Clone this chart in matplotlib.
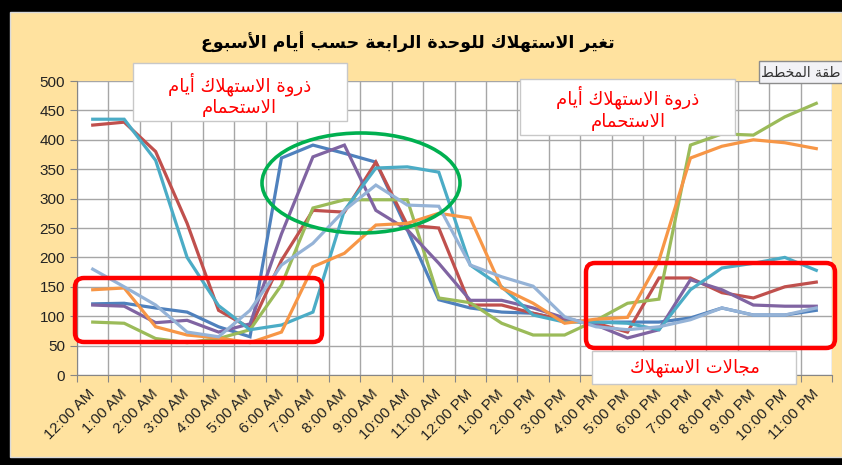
import matplotlib
matplotlib.use("Agg")
import matplotlib.pyplot as plt
from matplotlib.patches import Rectangle, Ellipse, FancyBboxPatch
from matplotlib.transforms import IdentityTransform

plt.rcParams['font.family'] = ['Liberation Sans', 'DejaVu Sans']

hours = ["12:00 AM", "1:00 AM", "2:00 AM", "3:00 AM", "4:00 AM", "5:00 AM",
         "6:00 AM", "7:00 AM", "8:00 AM", "9:00 AM", "10:00 AM", "11:00 AM",
         "12:00 PM", "1:00 PM", "2:00 PM", "3:00 PM", "4:00 PM", "5:00 PM",
         "6:00 PM", "7:00 PM", "8:00 PM", "9:00 PM", "10:00 PM", "11:00 PM"]

blue = [121, 122, 114, 107, 82, 65, 369, 391, 377, 362, 247, 128,
        114, 107, 105, 93, 90, 90, 90, 97, 114, 102, 102, 110]
red = [425, 430, 380, 258, 110, 80, 195, 280, 277, 362, 255, 250,
       119, 119, 105, 93, 88, 73, 165, 165, 140, 131, 150, 158]
green = [90, 88, 62, 55, 62, 77, 153, 284, 298, 298, 298, 131,
         123, 88, 68, 68, 93, 122, 129, 391, 410, 408, 439, 462]
purple = [119, 117, 89, 93, 73, 87, 240, 371, 391, 280, 247, 190,
          127, 127, 114, 97, 85, 63, 77, 162, 145, 119, 117, 117]
teal = [435, 435, 365, 200, 118, 77, 85, 107, 280, 352, 354, 345,
        187, 150, 102, 90, 90, 88, 77, 145, 182, 190, 200, 178]
orange = [145, 148, 82, 68, 63, 55, 73, 184, 207, 255, 258, 275,
          267, 148, 122, 88, 95, 98, 195, 369, 389, 400, 395, 385]
lightblue = [180, 150, 119, 73, 65, 110, 187, 224, 280, 323, 289, 287,
             187, 167, 151, 99, 82, 77, 82, 94, 114, 102, 102, 114]

series = [blue, red, green, purple, teal, orange, lightblue]
colors = ["#4F81BD", "#C0504D", "#9BBB59", "#8064A2", "#4BACC6", "#F79646", "#95B3D7"]

title = "تغير الاستهلاك للوحدة الرابعة حسب أيام الأسبوع"
peak_text = ["ذروة الاستهلاك أيام", "الاستحمام"]
range_text = "مجالات الاستهلاك"
tooltip_text = "طقة المخطط"  # the visible part of the cut-off tooltip

# simple arabic shaping (matplotlib has no bidi/shaping)
FORMS = {
    'ا': ('\ufe8d', '\ufe8e', None, None), 'أ': ('\ufe83', '\ufe84', None, None),
    'ب': ('\ufe8f', '\ufe90', '\ufe91', '\ufe92'), 'ة': ('\ufe93', '\ufe94', None, None),
    'ت': ('\ufe95', '\ufe96', '\ufe97', '\ufe98'), 'ج': ('\ufe9d', '\ufe9e', '\ufe9f', '\ufea0'),
    'ح': ('\ufea1', '\ufea2', '\ufea3', '\ufea4'), 'خ': ('\ufea5', '\ufea6', '\ufea7', '\ufea8'),
    'د': ('\ufea9', '\ufeaa', None, None), 'ذ': ('\ufeab', '\ufeac', None, None),
    'ر': ('\ufead', '\ufeae', None, None), 'س': ('\ufeb1', '\ufeb2', '\ufeb3', '\ufeb4'),
    'ط': ('\ufec1', '\ufec2', '\ufec3', '\ufec4'), 'ع': ('\ufec9', '\ufeca', '\ufecb', '\ufecc'),
    'غ': ('\ufecd', '\ufece', '\ufecf', '\ufed0'), 'ق': ('\ufed5', '\ufed6', '\ufed7', '\ufed8'),
    'ك': ('\ufed9', '\ufeda', '\ufedb', '\ufedc'), 'ل': ('\ufedd', '\ufede', '\ufedf', '\ufee0'),
    'م': ('\ufee1', '\ufee2', '\ufee3', '\ufee4'), 'ن': ('\ufee5', '\ufee6', '\ufee7', '\ufee8'),
    'ه': ('\ufee9', '\ufeea', '\ufeeb', '\ufeec'), 'و': ('\ufeed', '\ufeee', None, None),
    'ي': ('\ufef1', '\ufef2', '\ufef3', '\ufef4'),
}
LAM_ALEF = {'ا': ('\ufefb', '\ufefc', None, None), 'أ': ('\ufef7', '\ufef8', None, None)}


def shape(text):
    tokens = []
    i = 0
    while i < len(text):
        c = text[i]
        if c == 'ل' and i + 1 < len(text) and text[i + 1] in LAM_ALEF:
            tokens.append(LAM_ALEF[text[i + 1]])
            i += 2
        else:
            tokens.append(FORMS.get(c, c))
            i += 1
    out = []
    for k, t in enumerate(tokens):
        if isinstance(t, str):
            out.append(t)
            continue
        prev = tokens[k - 1] if k > 0 else None
        nxt = tokens[k + 1] if k + 1 < len(tokens) else None
        jp = isinstance(prev, tuple) and prev[2] is not None
        jn = isinstance(nxt, tuple) and t[2] is not None
        if jp and jn:
            out.append(t[3])
        elif jp:
            out.append(t[1])
        elif jn:
            out.append(t[2])
        else:
            out.append(t[0])
    return ''.join(reversed(out))


W, H = 842, 465
fig = plt.figure(figsize=(W / 100, H / 100), dpi=100)
fig.patch.set_facecolor("black")
px = IdentityTransform()


def py(y):
    # pixel y from top -> display coords
    return H - y


# chart area
fig.add_artist(Rectangle((10, py(457)), W - 10, 445, transform=px,
                         facecolor="#FFE29F", edgecolor="#D9D9D9", lw=1, zorder=-10))

ax = fig.add_axes([77 / W, (H - 375) / H, (832 - 77) / W, (375 - 81) / H])
x = list(range(len(hours)))
for vals, c in zip(series, colors):
    ax.plot(x, vals, color=c, lw=2.3, solid_joinstyle="miter", zorder=3)

ax.set_xlim(-0.5, len(hours) - 0.5)
ax.set_ylim(0, 500)
ax.set_yticks(range(0, 501, 50))
ax.set_xticks([i - 0.5 for i in range(len(hours) + 1)])
ax.set_xticklabels([])
ax.set_xticks(x, minor=True)
ax.set_xticklabels(hours, minor=True, rotation=45, ha="right", va="center",
                   rotation_mode="anchor", fontsize=11, color="#222222")
ax.tick_params(axis="x", which="minor", length=0, pad=12)
ax.tick_params(axis="x", which="major", length=5, color="#868686")
ax.tick_params(axis="y", length=5, color="#868686", labelsize=11, labelcolor="#222222")
ax.grid(True, which="major", color="#A6A6A6", lw=1)
ax.set_axisbelow(True)
for s in ["top", "right"]:
    ax.spines[s].set_visible(False)
for s in ["left", "bottom"]:
    ax.spines[s].set_color("#868686")

fig.text(408, py(42), shape(title), transform=px, ha="center", va="center",
         fontsize=12.5, fontweight="bold", color="black", family="DejaVu Sans")

# annotation boxes
fig.add_artist(Rectangle((133, py(121)), 214, 58, transform=px,
                         facecolor="white", edgecolor="#C8C8C8", lw=1, zorder=4))
fig.text(240, py(84), shape(peak_text[0]), transform=px, ha="center", va="center",
         fontsize=13, color="#FF0000", family="DejaVu Sans", zorder=5)
fig.text(239, py(108), shape(peak_text[1]), transform=px, ha="center", va="center",
         fontsize=13, color="#FF0000", family="DejaVu Sans", zorder=5)

fig.add_artist(Rectangle((520, py(135)), 215, 56, transform=px,
                         facecolor="white", edgecolor="#C8C8C8", lw=1, zorder=4))
fig.text(628, py(97), shape(peak_text[0]), transform=px, ha="center", va="center",
         fontsize=13, color="#FF0000", family="DejaVu Sans", zorder=5)
fig.text(628, py(122), shape(peak_text[1]), transform=px, ha="center", va="center",
         fontsize=13, color="#FF0000", family="DejaVu Sans", zorder=5)

fig.add_artist(Rectangle((592, py(384)), 204, 33, transform=px,
                         facecolor="white", edgecolor="#C8C8C8", lw=1, zorder=4))
fig.text(695, py(368), shape(range_text), transform=px, ha="center", va="center",
         fontsize=13, color="#FF0000", family="DejaVu Sans", zorder=5)

# red rounded boxes and green ellipse
fig.add_artist(FancyBboxPatch((75, py(342)), 247, 64, transform=px,
                              boxstyle="round,pad=0,rounding_size=9",
                              facecolor="none", edgecolor="#FF0000", lw=3.2, zorder=6))
fig.add_artist(FancyBboxPatch((586, py(348)), 249, 85, transform=px,
                              boxstyle="round,pad=0,rounding_size=9",
                              facecolor="none", edgecolor="#FF0000", lw=3.2, zorder=6))
fig.add_artist(Ellipse((361, py(183)), 198, 100, transform=px,
                       facecolor="none", edgecolor="#00B050", lw=2.6, zorder=6))

# tooltip running off the right edge
fig.add_artist(Rectangle((759, py(83)), 100, 22, transform=px,
                         facecolor="#F2F2F6", edgecolor="#8C8C8C", lw=1, zorder=7))
fig.text(840, py(73), shape(tooltip_text), transform=px, ha="right", va="center",
         fontsize=10, color="#333333", family="DejaVu Sans", zorder=8)

fig.savefig("out.png", dpi=100, facecolor=fig.get_facecolor())
